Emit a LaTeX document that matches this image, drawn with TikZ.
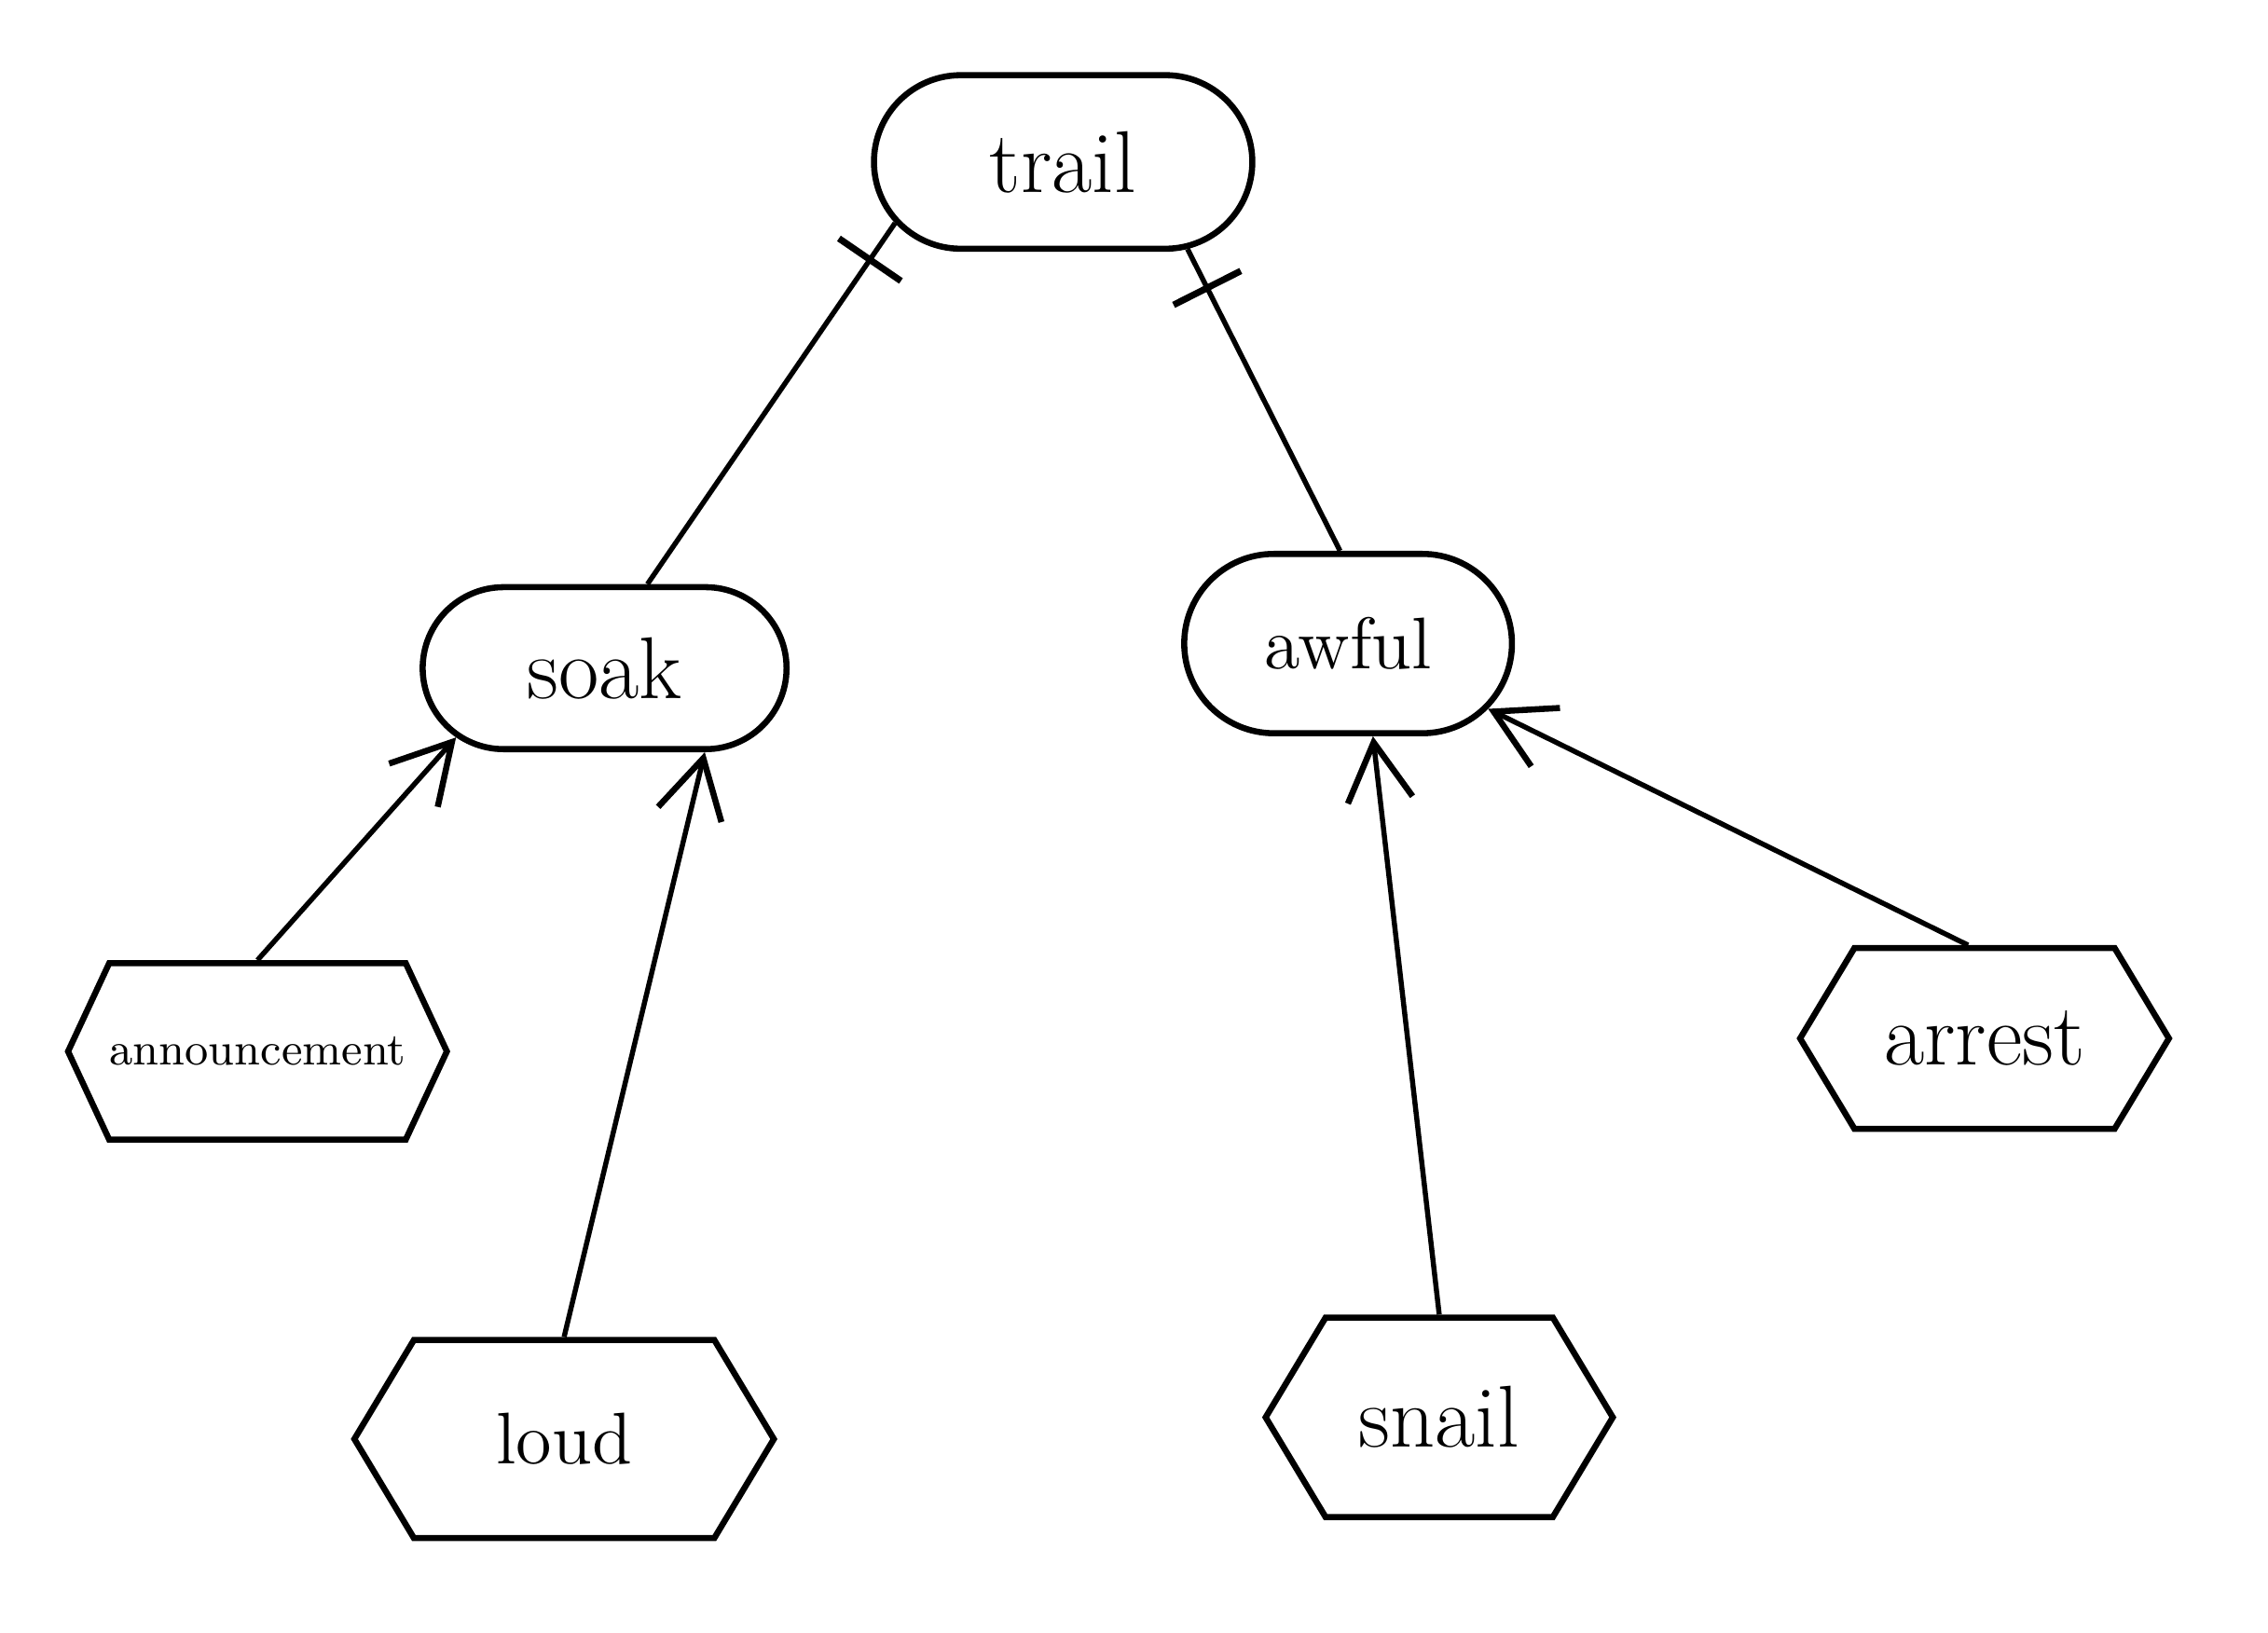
\documentclass[tikz,border=0pt]{standalone}
\usetikzlibrary{shapes.misc,shapes.symbols,arrows.meta,decorations.markings}
\begin{document}
\begin{tikzpicture}[
      word/.style={rounded rectangle,draw,line width=1.2pt,font=\LARGE},
      leaf/.style={signal,signal to=west and east,signal pointer angle=118,
        draw,line width=1.2pt,font=\LARGE,inner sep=1pt},
      up/.style={line width=1pt,-{Straight Barb[length=4mm,width=4.5mm,line width=1.2pt]}},
      barend/.style={line width=1pt,postaction={decorate},
        decoration={markings,mark=at position -3mm with {\draw[line width=1.3pt] (0,-2.6mm) -- (0,2.6mm);}}},
    ]
    \useasboundingbox (0,0) rectangle (15.68,11.29);
    \node[word,minimum width=2.85cm,minimum height=1.2cm] (trail) at (7.35,10.17) {trail};
    \node[word,minimum width=2.75cm,minimum height=1.12cm] (soak) at (4.18,6.67) {soak};
    \node[word,minimum width=2.5cm,minimum height=1.24cm,font=\Large] (awful) at (9.32,6.84) {awful};
    \node[leaf,minimum width=2.45cm,minimum height=1.22cm,font=\small,inner sep=0pt,signal pointer angle=130] (announcement) at (1.78,4.02) {announcement};
    \node[leaf,minimum width=2.9cm,minimum height=1.37cm,font=\Large] (loud) at (3.90,1.34) {loud};
    \node[leaf,minimum width=2.4cm,minimum height=1.38cm] (snail) at (9.95,1.49) {snail};
    \node[leaf,minimum width=2.55cm,minimum height=1.25cm] (arrest) at (13.72,4.11) {arrest};
    \draw[barend] (soak.63) -- (trail.-160);
    \draw[barend] (awful.95) -- (trail.-35);
    \draw[up] (announcement.north) -- (soak.-155);
    \draw[up] (loud.north) -- (soak.-40);
    \draw[up] (snail.north) -- (awful.-75);
    \draw[up] (arrest.100) -- (awful.-25);
  \end{tikzpicture}
\end{document}
